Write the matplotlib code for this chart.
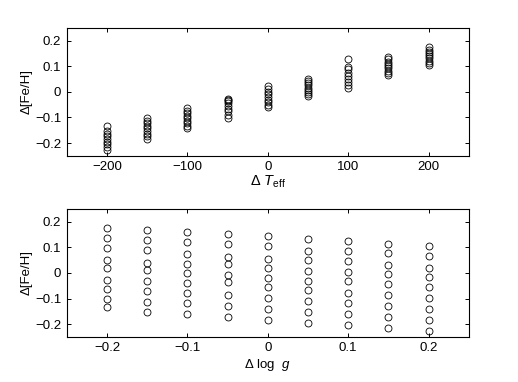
import numpy as np
import matplotlib
matplotlib.use("Agg")
import matplotlib.pyplot as plt

plt.rcParams['font.family'] = ['Liberation Sans', 'DejaVu Sans']
plt.rcParams['mathtext.fontset'] = 'custom'
plt.rcParams['mathtext.it'] = 'Liberation Sans:italic'
plt.rcParams['mathtext.rm'] = 'Liberation Sans'

# ---- data: perturbation in Teff vs resulting change in [Fe/H] ----
teff_steps = [-200, -150, -100, -50, 0, 50, 100, 150, 200]
dfeh_teff = [
    [-0.135, -0.152, -0.163, -0.174, -0.184, -0.195, -0.205, -0.215, -0.226],
    [-0.103, -0.113, -0.123, -0.133, -0.143, -0.153, -0.163, -0.173, -0.184],
    [-0.064, -0.074, -0.084, -0.094, -0.104, -0.114, -0.123, -0.133, -0.143],
    [-0.027, -0.031, -0.035, -0.045, -0.055, -0.065, -0.075, -0.090, -0.104],
    [0.021, 0.011, 0.001, -0.010, -0.020, -0.030, -0.040, -0.050, -0.060],
    [0.051, 0.042, 0.034, 0.026, 0.017, 0.008, -0.001, -0.010, -0.018],
    [0.129, 0.099, 0.088, 0.075, 0.063, 0.052, 0.040, 0.026, 0.014],
    [0.136, 0.127, 0.118, 0.110, 0.101, 0.092, 0.083, 0.074, 0.064],
    [0.174, 0.165, 0.157, 0.148, 0.140, 0.131, 0.122, 0.113, 0.105],
]

# ---- data: perturbation in log g vs change in [Fe/H] ----
logg_steps = [-0.2, -0.15, -0.1, -0.05, 0, 0.05, 0.1, 0.15, 0.2]
dfeh_logg = [
    [0.174, 0.136, 0.099, 0.051, 0.019, -0.026, -0.061, -0.101, -0.135],
    [0.168, 0.130, 0.088, 0.038, 0.012, -0.030, -0.070, -0.112, -0.152],
    [0.161, 0.121, 0.073, 0.036, -0.001, -0.038, -0.078, -0.119, -0.161],
    [0.151, 0.113, 0.064, 0.035, -0.009, -0.036, -0.088, -0.130, -0.173],
    [0.143, 0.104, 0.056, 0.021, -0.018, -0.056, -0.096, -0.140, -0.183],
    [0.134, 0.086, 0.049, 0.009, -0.032, -0.065, -0.108, -0.151, -0.194],
    [0.123, 0.086, 0.045, 0.003, -0.031, -0.077, -0.119, -0.162, -0.204],
    [0.114, 0.077, 0.032, -0.006, -0.042, -0.087, -0.130, -0.173, -0.214],
    [0.106, 0.068, 0.019, -0.014, -0.053, -0.099, -0.140, -0.183, -0.225],
]

yticks = [-0.2, -0.1, 0, 0.1, 0.2]
ytick_labels = ['\u22120.2', '\u22120.1', '0', '0.1', '0.2']
teff_ticks = [-200, -100, 0, 100, 200]
teff_labels = ['\u2212200', '\u2212100', '0', '100', '200']
logg_ticks = [-0.2, -0.1, 0, 0.1, 0.2]
logg_labels = ['\u22120.2', '\u22120.1', '0', '0.1', '0.2']

fig = plt.figure(figsize=(5.18, 3.82), dpi=100)
ax1 = fig.add_axes([0.129, 0.592, 0.776, 0.335])
ax2 = fig.add_axes([0.129, 0.118, 0.776, 0.335])


def style(ax):
    ax.tick_params(direction='in', top=True, right=True, length=3,
                   width=0.7, labelsize=9.5, pad=4)
    for s in ax.spines.values():
        s.set_linewidth(0.8)
    ax.set_ylim(-0.25, 0.25)
    ax.set_yticks(yticks)
    ax.set_yticklabels(ytick_labels)
    ax.set_ylabel('\u0394[Fe/H]', fontsize=9.5, labelpad=2)


for x, ys in zip(teff_steps, dfeh_teff):
    ax1.plot([x] * len(ys), ys, 'o', mfc='none', mec='k', ms=5, mew=0.6)
ax1.set_xlim(-250, 250)
ax1.set_xticks(teff_ticks)
ax1.set_xticklabels(teff_labels)
style(ax1)
ax1.set_xlabel('\u0394 $T_{\\rm eff}$', fontsize=10.5, labelpad=0)

for x, ys in zip(logg_steps, dfeh_logg):
    ax2.plot([x] * len(ys), ys, 'o', mfc='none', mec='k', ms=5, mew=0.6)
ax2.set_xlim(-0.25, 0.25)
ax2.set_xticks(logg_ticks)
ax2.set_xticklabels(logg_labels)
style(ax2)
ax2.set_xlabel('\u0394 log  $g$', fontsize=9.5, labelpad=2)

fig.savefig('out.png', dpi=100)
